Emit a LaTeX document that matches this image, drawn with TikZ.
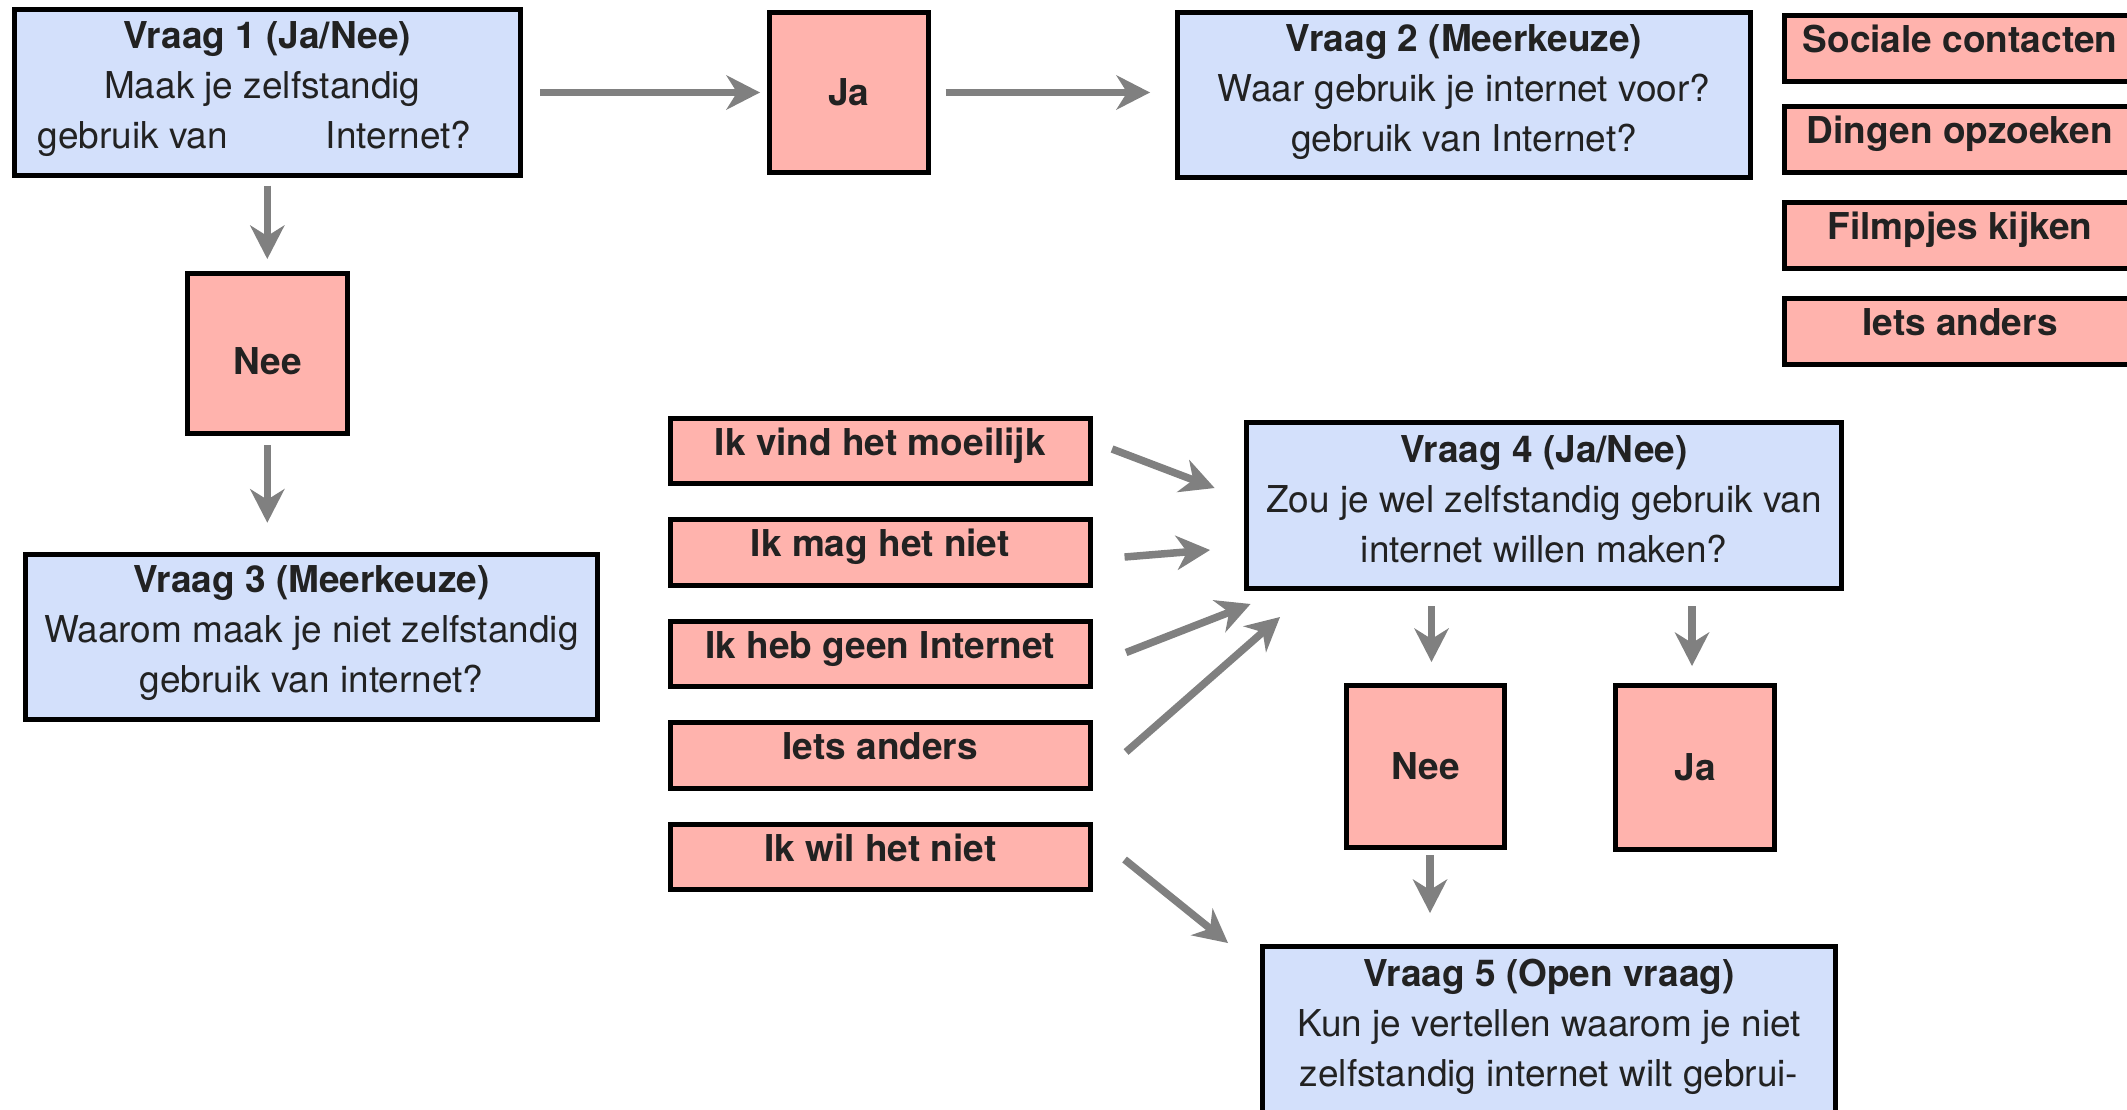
\documentclass[tikz,border=0pt]{standalone}
\usepackage{fontspec}
\setmainfont{TeX Gyre Heros}
\usetikzlibrary{arrows.meta}
\definecolor{qblue}{RGB}{211,224,251}
\definecolor{apink}{RGB}{255,179,173}
\definecolor{arrgray}{RGB}{128,128,128}
\definecolor{txt}{RGB}{34,34,34}
\newcommand\mydp[1]{\rule[-#1]{0pt}{#1}}
\tikzset{
  box/.style={draw=black, line width=5pt, outer sep=2.5pt, inner sep=0pt, text=txt,
    font=\fontsize{37}{50}\selectfont},
  qbox/.style={box, fill=qblue, align=center},
  abox/.style={box, fill=apink, font=\fontsize{37}{50}\selectfont\bfseries},
  optbox/.style={abox, text height=27pt, text depth=19pt},
  arr/.style={draw=arrgray, line width=7.5pt,
    -{Stealth[length=34pt,width=35pt,inset=11pt,line width=0pt]}},
}
\begin{document}
\begin{tikzpicture}[x=1pt,y=-1pt]
\useasboundingbox (0,0) rectangle (2127,1109);

% question boxes
\node[qbox, minimum width=506.5pt, minimum height=165.4pt] (V1) at (267.3,92.5)
  {\textbf{Vraag 1 (Ja/Nee)}\\Maak je zelfstandig\kern10pt\\gebruik van\hspace{98pt}Internet?\kern26pt\mydp{14pt}};
\node[qbox, minimum width=573pt, minimum height=165pt] (V2) at (1464,95)
  {\textbf{Vraag 2 (Meerkeuze)}\\Waar gebruik je internet voor?\\gebruik van Internet?\mydp{14pt}};
\node[qbox, minimum width=572pt, minimum height=165pt] (V3) at (311.4,636.7)
  {\textbf{Vraag 3 (Meerkeuze)}\\Waarom maak je niet zelfstandig\\gebruik van internet?\mydp{15pt}};
\node[qbox, minimum width=595pt, minimum height=166pt] (V4) at (1544,505.5)
  {\textbf{Vraag 4 (Ja/Nee)}\\Zou je wel zelfstandig gebruik van\\internet willen maken?\mydp{12pt}};
\node[qbox, minimum width=573pt, minimum height=167pt, anchor=north] (V5) at (1549,944)
  {\textbf{Vraag 5 (Open vraag)}\\Kun je vertellen waarom je niet\\zelfstandig internet wilt gebrui-\mydp{14pt}};

% answer boxes
\node[abox, minimum width=159.4pt, minimum height=160pt] (Ja1) at (848.8,92.5) {Ja};
\node[abox, minimum width=159.5pt, minimum height=160pt, text height=41pt, text depth=0pt] (Nee1) at (267.3,353.5) {Nee};
\node[abox, minimum width=158pt, minimum height=162pt] (Nee2) at (1425.5,766.5) {Nee};
\node[abox, minimum width=159pt, minimum height=164pt] (Ja2) at (1695,767.5) {Ja};

% options of question 2
\node[optbox, minimum width=351pt, minimum height=66pt] (s1) at (1960,48.3) {Sociale contacten};
\node[optbox, minimum width=351pt, minimum height=66pt] (s2) at (1960,139) {Dingen opzoeken};
\node[optbox, minimum width=351pt, minimum height=66pt] (s3) at (1960,235) {Filmpjes kijken};
\node[optbox, minimum width=351pt, minimum height=66pt] (s4) at (1960,331) {Iets anders};

% options of question 3
\node[optbox, minimum width=420.5pt, minimum height=65.5pt] (o1) at (880.3,451) {Ik vind het moeilijk};
\node[optbox, minimum width=420.5pt, minimum height=65.5pt] (o2) at (880.3,552.5) {Ik mag het niet};
\node[optbox, minimum width=420.5pt, minimum height=65.5pt] (o3) at (880.3,654) {Ik heb geen Internet};
\node[optbox, minimum width=420.5pt, minimum height=65.5pt] (o4) at (880.3,755.5) {Iets anders};
\node[optbox, minimum width=420.5pt, minimum height=65.5pt] (o5) at (880.3,857) {Ik wil het niet};

% connectors
\draw[arr, shorten <=17pt, shorten >=6.6pt] (V1.east) -- (Ja1.west);
\draw[arr, shorten <=14.5pt, shorten >=25pt] (Ja1.east) -- (Ja1.east -| V2.west);
\draw[arr, shorten <=8pt, shorten >=12pt] (V1.south) -- (Nee1.north);
\draw[arr, shorten <=9pt, shorten >=29pt] (Nee1.south) -- (Nee1.south |- V3.north);
\draw[arr, shorten <=15pt, shorten >=21pt] ([xshift=6pt]Nee2.north |- V4.south) -- ([xshift=6pt]Nee2.north);
\draw[arr, shorten <=15pt, shorten >=17pt] ([xshift=-3pt]Ja2.north |- V4.south) -- ([xshift=-3pt]Ja2.north);
\draw[arr, shorten <=5pt, shorten >=31pt] ([xshift=4.5pt]Nee2.south) -- ([xshift=4.5pt]Nee2.south |- V5.north);

\draw[arr] ([xshift=19pt,yshift=2pt]o1.east) -- ([xshift=-29.4pt,yshift=17.5pt]V4.west);
\draw[arr] ([xshift=31.5pt,yshift=-4.5pt]o2.east) -- ([xshift=-34pt,yshift=-44.5pt]V4.west);
\draw[arr] ([xshift=33pt,yshift=1.5pt]o3.east) -- ([xshift=6.5pt,yshift=-13pt]V4.south west);
\draw[arr] ([xshift=33pt,yshift=3.5pt]o4.east) -- ([xshift=36pt,yshift=-26pt]V4.south west);
\draw[arr] ([xshift=31.5pt,yshift=-2.5pt]o5.east) -- ([xshift=-32pt,yshift=1pt]V5.north west);
\end{tikzpicture}
\end{document}
